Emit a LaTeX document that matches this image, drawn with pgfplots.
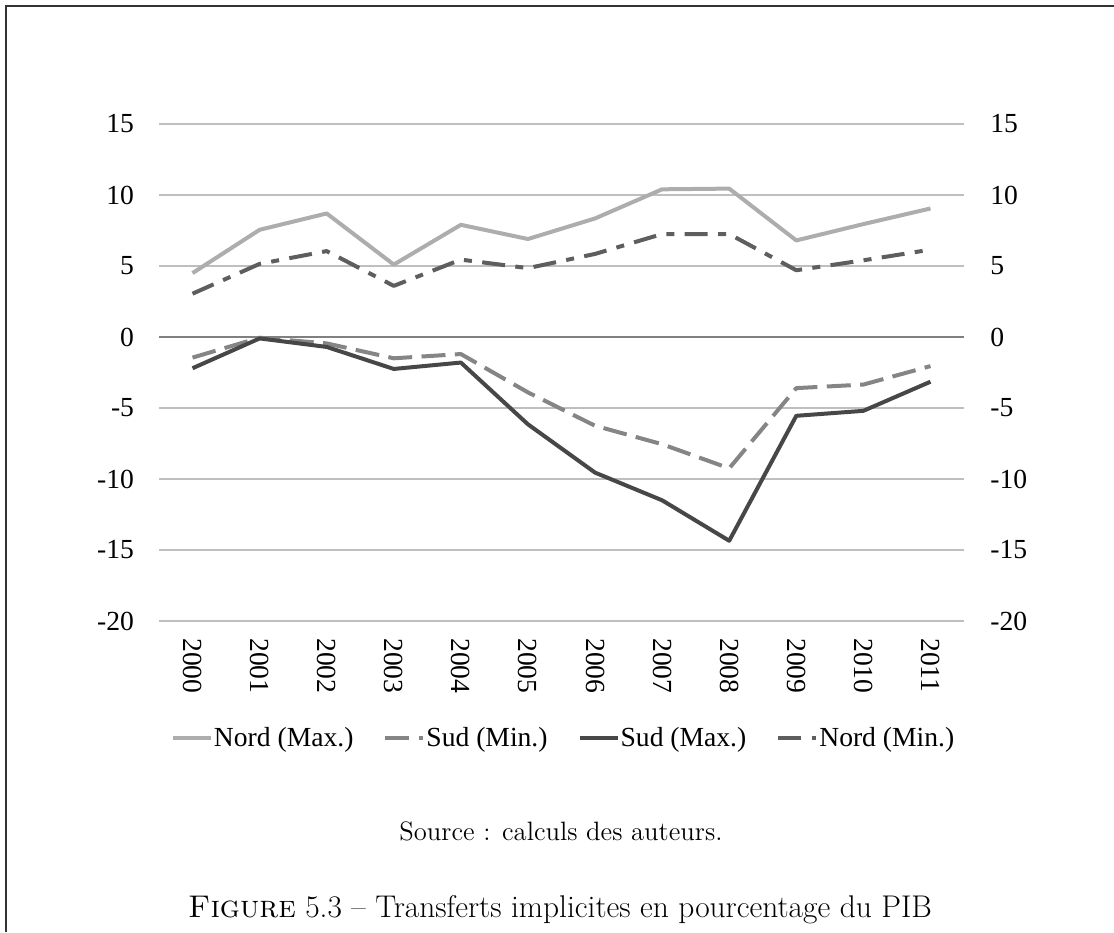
\documentclass[border=0pt]{standalone}
\usepackage{fontspec}
\usepackage{pgfplots}
\usepackage{pgfplotstable}
\pgfplotsset{compat=1.18}
\newfontfamily\tnr{Liberation Serif}
\definecolor{cNmax}{HTML}{ADADAD}
\definecolor{cSmin}{HTML}{858585}
\definecolor{cSmax}{HTML}{474747}
\definecolor{cNmin}{HTML}{5E5E5E}
\definecolor{cgrid}{HTML}{BFBFBF}
\definecolor{czero}{HTML}{808080}
\definecolor{cframe}{HTML}{333333}

\pgfplotstableread{
x  nmax   smin   smax    nmin
0  4.50  -1.45  -2.20   3.05
1  7.55  -0.05  -0.10   5.15
2  8.70  -0.45  -0.70   6.05
3  5.10  -1.50  -2.25   3.60
4  7.90  -1.20  -1.80   5.45
5  6.90  -3.90  -6.15   4.85
6  8.35  -6.25  -9.55   5.85
7 10.40  -7.55 -11.50   7.25
8 10.45  -9.25 -14.35   7.25
9  6.80  -3.60  -5.55   4.70
10 7.95  -3.35  -5.20   5.40
11 9.05  -2.05  -3.15   6.15
}\datatable

\begin{document}
\begin{tikzpicture}
\useasboundingbox (0,0) rectangle (557pt,466pt);
\draw[cframe, line width=1pt] (3pt,0pt) -- (3pt,463pt) -- (557pt,463pt);
\begin{axis}[
  at={(79.5pt,155.5pt)}, anchor=south west,
  scale only axis, width=402.5pt, height=248.5pt,
  xmin=-0.5, xmax=11.5, ymin=-20, ymax=15,
  xtick={0,1,2,3,4,5,6,7,8,9,10,11},
  xticklabels={2000,2001,2002,2003,2004,2005,2006,2007,2008,2009,2010,2011},
  ytick={-20,-15,-10,-5,5,10,15},
  extra y ticks={0},
  extra y tick style={grid style={czero, line width=0.7pt}},
  axis line style={draw=none},
  major tick style={draw=none},
  ymajorgrids,
  grid style={cgrid, line width=0.7pt},
  /pgf/number format/assume math mode=true,
  tick label style={font=\tnr\fontsize{13.8}{16}\selectfont},
  yticklabel style={inner sep=0pt, xshift=-12.3pt},
  xticklabel style={inner sep=0pt, yshift=-8.5pt, rotate=-90, anchor=west},
  legend style={at={(0.502,-0.2354)}, anchor=center, draw=none, fill=none,
    legend columns=4, font=\tnr\fontsize{13.8}{16}\selectfont,
    /tikz/every even column/.append style={column sep=14.5pt},
    nodes={inner sep=0.5pt}},
  legend image code/.code={\draw[#1] (0pt,0pt) -- (19pt,0pt);},
]
\addplot[cNmax, line width=2pt, line join=round] table[x=x,y=nmax]{\datatable};
\addlegendentry{Nord (Max.)}
\addplot[cSmin, line width=2pt, line join=round, dash pattern=on 12pt off 4.7pt] table[x=x,y=smin]{\datatable};
\addlegendentry{Sud (Min.)}
\addplot[cSmax, line width=2pt, line join=round] table[x=x,y=smax]{\datatable};
\addlegendentry{Sud (Max.)}
\addplot[cNmin, line width=2pt, line join=round, dash pattern=on 11.5pt off 5.2pt on 4pt off 5.2pt] table[x=x,y=nmin]{\datatable};
\addlegendentry{Nord (Min.)}
\end{axis}
\begin{axis}[
  at={(79.5pt,155.5pt)}, anchor=south west,
  scale only axis, width=402.5pt, height=248.5pt,
  xmin=-0.5, xmax=11.5, ymin=-20, ymax=15,
  ytick={-20,-15,-10,-5,0,5,10,15},
  hide x axis,
  axis y line*=right,
  y axis line style={draw=none},
  major tick style={draw=none},
  /pgf/number format/assume math mode=true,
  tick label style={font=\tnr\fontsize{13.8}{16}\selectfont},
  yticklabel style={inner sep=0pt, xshift=13pt, anchor=west},
]
\addplot[draw=none] coordinates {(0,0)};
\end{axis}
\node[anchor=base, font=\fontsize{13.3}{16}\selectfont] at (280.5pt,45.5pt) {Source : calculs des auteurs.};
\node[anchor=base, font=\fontsize{15.7}{19}\selectfont] at (280pt,7.5pt) {\textsc{Figure} 5.3 – Transferts implicites en pourcentage du PIB};
\end{tikzpicture}
\end{document}
